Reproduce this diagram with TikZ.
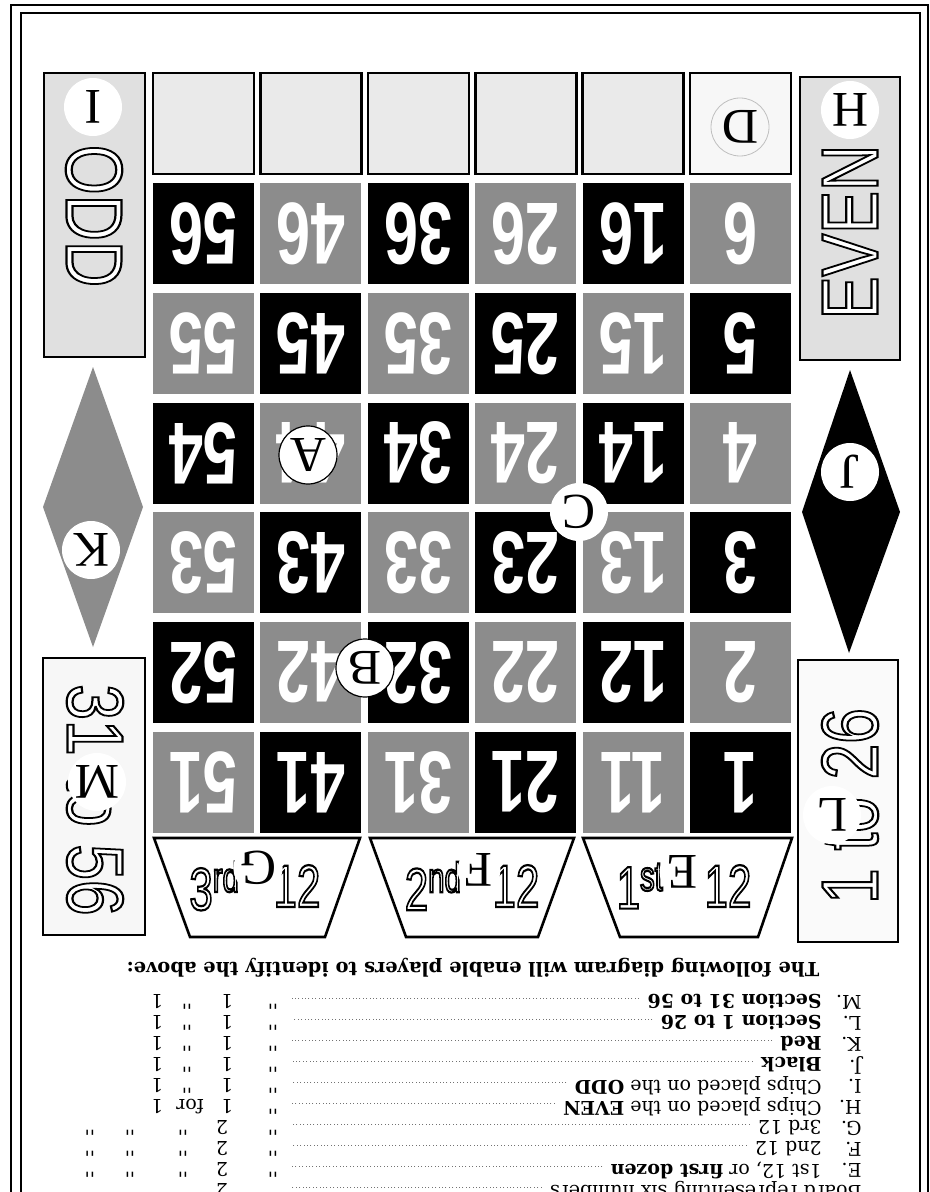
\documentclass[tikz,border=0pt]{standalone}
\usepackage{fontspec}
\setmainfont{Liberation Serif}
\newfontfamily\numfont{Liberation Sans}
\newfontfamily\listfont{DejaVu Serif}
\usepackage{graphicx}
\usetikzlibrary{positioning, calc}

\definecolor{cellgray}{gray}{0.55}
\definecolor{boxgray}{gray}{0.88}

% letras vazadas (contorno preto, miolo branco) e estreitas
\newcommand{\hollow}[1]{\special{pdf:code q 2 Tr 1.1 w 0 G 1 g}#1\special{pdf:code Q}}
\newcommand{\squeeze}[2][0.72]{\scalebox{#1}[1]{#2}}

\begin{document}
\begin{tikzpicture}[
      x=0.5pt, y=-0.5pt,
      frame/.style={draw=black, line width=1.3pt},
      board/.style={draw=black, line width=1.3pt},
      blackcell/.style={fill=black, minimum width=50.5pt, minimum height=50.5pt},
      graycell/.style={fill=cellgray, minimum width=50.5pt, minimum height=50.5pt},
      cellnum/.style={text=white, rotate=180, inner sep=0pt, font=\numfont\bfseries\fontsize{44}{44}\selectfont},
      topbox/.style={board, fill=boxgray!70, minimum width=50.5pt, minimum height=50.5pt, inner sep=0pt},
      tag/.style={circle, fill=white, inner sep=0pt, minimum size=29pt, rotate=180, font=\fontsize{25}{25}\selectfont},
      smalltag/.style={tag, minimum size=20pt},
      hollowword/.style={inner sep=0pt, font=\numfont\fontsize{40}{40}\selectfont},
      trapword/.style={inner sep=0pt, font=\numfont\fontsize{30}{30}\selectfont},
      listtxt/.style={rotate=180, anchor=west, inner sep=0pt, font=\listfont\fontsize{9.5}{10}\selectfont},
      ditto/.style={rotate=180, inner sep=0pt, font=\listfont\fontsize{9.5}{10}\selectfont},
      leader/.style={black!55, line width=0.35pt, dash pattern=on 0.5pt off 1.2pt}
  ]
      \useasboundingbox (0,0) rectangle (930,1192);

      % Moldura dupla
      \draw[frame] (11,5) rectangle (928,1230);
      \draw[line width=0.8pt] (21,13) rectangle (920,1230);

      % Colunas laterais
      \node[board, fill=boxgray, minimum width=50.5pt, minimum height=142pt, inner sep=0pt] (oddbox) at (94.5,215) {};
      \node[board, fill=boxgray, minimum width=50pt, minimum height=141.5pt, inner sep=0pt] (evenbox) at (850,218.5) {};
      \node[board, fill=black!3, minimum width=51pt, minimum height=138.5pt, inner sep=0pt] (mbox) at (94,796.5) {};
      \node[board, fill=black!2, minimum width=50pt, minimum height=141pt, inner sep=0pt] (lbox) at (848,801) {};

      \node[hollowword, rotate=-90] (oddword) at (94,216) {\squeeze[0.8]{\hollow{ODD}}};
      \node[hollowword, rotate=90] (evenword) at (850,232) {\squeeze[0.8]{\hollow{EVEN}}};
      \node[hollowword, rotate=-90] (mword) at (95,800) {\squeeze[0.8]{\hollow{31 to 56}}};
      \node[hollowword, rotate=90] (lword) at (850,806) {\squeeze[0.8]{\hollow{1 to 26}}};

      % Losangos
      \fill[cellgray] (93,367) -- (143,507) -- (93,647) -- (43,507) -- cycle;
      \fill[black] (850,370) -- (900,512) -- (849,653) -- (802,512) -- cycle;

      % Casas vazias do topo
      \foreach \c in {0,...,4}
          \node[topbox] (top\c) at ({203.5+107.4*\c},123.7) {};
      \node[topbox, fill=black!3] (top5) at (740.5,123.7) {};

      % Grade de numeros
      \foreach \r in {0,...,5}{
          \foreach \c in {0,...,5}{
              \pgfmathtruncatemacro{\num}{(5-\c)*10+6-\r}
              \pgfmathtruncatemacro{\tone}{mod(\r+\c,2)}
              \ifnum\tone=0
                  \node[blackcell, cellnum] (n\num) at ({203.5+107.4*\c},{233.5+109.8*\r}) {\squeeze[0.7]{\num}};
              \else
                  \node[graycell, cellnum] (n\num) at ({203.5+107.4*\c},{233.5+109.8*\r}) {\squeeze[0.7]{\num}};
              \fi
          }
      }

      % Trapezios das duzias
      \draw[board, fill=white] (154,838) -- (360,838) -- (325,937) -- (190,937) -- cycle;
      \draw[board, fill=white] (370,838) -- (574,838) -- (538,937) -- (406,937) -- cycle;
      \draw[board, fill=white] (583,838) -- (792,838) -- (758,937) -- (620,937) -- cycle;
      \node[trapword, anchor=east] (dozen3a) at (240,886) {\squeeze[0.7]{\hollow{3\textsuperscript{rd}}}};
      \node[trapword] (dozen3b) at (297,886) {\squeeze[0.7]{\hollow{12}}};
      \node[trapword, anchor=east] (dozen2a) at (462,886) {\squeeze[0.7]{\hollow{2\textsuperscript{nd}}}};
      \node[trapword] (dozen2b) at (516,886) {\squeeze[0.7]{\hollow{12}}};
      \node[trapword, anchor=east] (dozen1a) at (664,886) {\squeeze[0.7]{\hollow{1\textsuperscript{st}}}};
      \node[trapword] (dozen1b) at (728,886) {\squeeze[0.7]{\hollow{12}}};

      % Letras de identificacao
      \node[tag] (tagI) at (93,107) {I};
      \node[tag] (tagH) at (850,110) {H};
      \node[tag, fill=none, draw=black!25, thin] (tagD) at (740,127) {D};
      \node[tag, draw=black, line width=0.6pt] (tagA) at (308,455) {A};
      \node[tag, draw=black, line width=0.6pt] (tagB) at (365,668) {B};
      \node[tag] (tagC) at (579,512) {C};
      \node[tag] (tagJ) at (850,472) {J};
      \node[tag] (tagK) at (91,550) {K};
      \node[tag] (tagM) at (97,782) {M};
      \node[tag] (tagL) at (832,815) {L};
      \node[smalltag] (tagG) at (258,868) {G};
      \node[smalltag] (tagF) at (479,870) {F};
      \node[smalltag] (tagE) at (682,872) {E};

      % Legenda
      \node[rotate=180, inner sep=0pt, font=\listfont\bfseries\fontsize{9.7}{10}\selectfont] (heading) at (473,968)
          {The following diagram will enable players to identify the above:};

      \coordinate (leadstop) at (292,0);
      \foreach \k/\rowl/\rowt in {0/M/{\textbf{Section 31 to 56}}, 1/L/{\textbf{Section 1 to 26}},
          2/K/{\textbf{Red}}, 3/J/{\textbf{Black}}, 4/I/{Chips placed on the \textbf{ODD}},
          5/H/{Chips placed on the \textbf{EVEN}}, 6/G/{3rd 12}, 7/F/{2nd 12},
          8/E/{1st 12, or \textbf{first dozen}}}{
          \node[listtxt] (lbl\rowl) at (862,{1002+21*\k}) {\rowl.};
          \node[listtxt] (txt\rowl) at (822,{1002+21*\k}) {\rowt};
          \draw[leader] ($(txt\rowl.east)+(-8,-4)$) -- ($(txt\rowl.east -| leadstop)+(0,-4)$);
      }
      \node[listtxt] (txtboard) at (862,1191) {Board representing six numbers};
      \draw[leader] ($(txtboard.east)+(-8,-4)$) -- ($(txtboard.east -| leadstop)+(0,-4)$);

      % Colunas de aspas e valores
      \foreach \k in {0,...,4}{
          \node[ditto] (dqa\k) at (273,{1002+21*\k}) {''};
          \node[ditto] (one\k) at (227,{1002+21*\k}) {1};
          \node[ditto] (dqb\k) at (187,{1002+21*\k}) {''};
          \node[ditto] (onb\k) at (157,{1002+21*\k}) {1};
      }
      \node[ditto] (dqa5) at (273,1107) {''};
      \node[ditto] (one5) at (227,1107) {1};
      \node[ditto] (for5) at (190,1107) {for};
      \node[ditto] (onb5) at (157,1107) {1};
      \foreach \k in {6,...,9}{
          \node[ditto] (dqa\k) at (273,{1002+21*\k}) {''};
          \node[ditto] (two\k) at (222,{1002+21*\k}) {2};
          \node[ditto] (dqb\k) at (183,{1002+21*\k}) {''};
          \node[ditto] (dqc\k) at (130,{1002+21*\k}) {''};
          \node[ditto] (dqd\k) at (90,{1002+21*\k}) {''};
      }

  \end{tikzpicture}
\end{document}
